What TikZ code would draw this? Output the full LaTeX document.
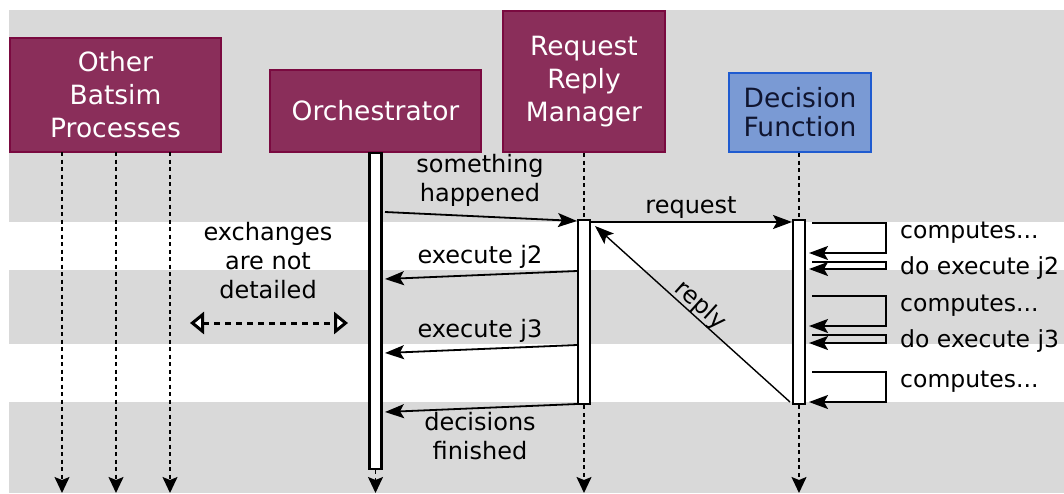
\documentclass[tikz,border=0pt]{standalone}
\usepackage{fontspec}
\setmainfont{DejaVu Sans}
\usetikzlibrary{arrows.meta}
\definecolor{bandgray}{HTML}{D9D9D9}
\definecolor{procfill}{HTML}{8A2E5A}
\definecolor{procdraw}{HTML}{7A0A40}
\definecolor{dffill}{HTML}{7A9AD4}
\definecolor{dfdraw}{HTML}{1F5BD0}
\definecolor{dftext}{HTML}{101530}
\begin{document}
\begin{tikzpicture}[x=1pt,y=-1pt,
 proc/.style={draw=procdraw, fill=procfill, line width=2pt, text=white, align=center, inner sep=0pt, font=\fontsize{26.5}{33}\selectfont},
 dfbox/.style={draw=dfdraw, fill=dffill, line width=2pt, text=dftext, align=center, inner sep=0pt, font=\fontsize{26.5}{29}\selectfont},
 act/.style={draw=black, fill=white, line width=2.8pt, minimum width=12pt, inner sep=0pt},
 life/.style={dash pattern=on 4pt off 3.5pt, line width=1.6pt},
 lifeend/.style={life, -{Stealth[length=16pt,width=15pt,inset=3pt]}},
 msg/.style={line width=1.8pt, -{Stealth[length=19pt,width=14pt,inset=4pt]}},
 lbl/.style={font=\fontsize{24}{29}\selectfont, align=center, inner sep=0pt},
 side/.style={font=\fontsize{23.5}{29}\selectfont, anchor=west, inner sep=0pt},
]
\useasboundingbox (0,0) rectangle (1064,493);
% background bands
\fill[bandgray] (9,10) rectangle (1064,222);
\fill[bandgray] (9,270) rectangle (1064,344);
\fill[bandgray] (9,402) rectangle (1064,493);

% participants
\node[proc, minimum width=211pt, minimum height=114pt] (other) at (115.5,95) {Other\\Batsim\\Processes};
\node[proc, minimum width=211pt, minimum height=82pt] (orch) at (375.5,111) {Orchestrator};
\node[proc, minimum width=162pt, minimum height=141pt] (rrm) at (584,81.5) {Request\\Reply\\Manager};
\node[dfbox, minimum width=142pt, minimum height=79pt] (df) at (800,112.5) {Decision\\Function};

% lifeline ends
\coordinate (o1) at (62,152); \coordinate (o1e) at (62,493);
\coordinate (o2) at (116,152); \coordinate (o2e) at (116,493);
\coordinate (o3) at (170,152); \coordinate (o3e) at (170,493);
\coordinate (orche) at (375.5,493);
\coordinate (rrme) at (584,493);
\coordinate (dfe) at (799,493);

\draw[lifeend] (o1) -- (o1e);
\draw[lifeend] (o2) -- (o2e);
\draw[lifeend] (o3) -- (o3e);

% activations
\node[act, minimum height=316pt] (oact) at (375.5,311) {};
\node[act, minimum height=184pt] (ract) at (584,312) {};
\node[act, minimum height=184pt] (dact) at (799,312) {};

\draw[life] (rrm.south -| ract.north) -- (ract.north);
\draw[life] (df.south -| dact.north) -- (dact.north);
\draw[lifeend] (oact.south) -- (orche);
\draw[lifeend] (ract.south) -- (rrme);
\draw[lifeend] (dact.south) -- (dfe);

% messages
\coordinate (sh1) at (385,212); \coordinate (sh2) at (577,221);
\draw[msg] (sh1) -- (sh2);
\node[lbl] (shl) at (480,180.5) {something\\happened};

\coordinate (rq1) at (590,222); \coordinate (rq2) at (792,222);
\draw[msg] (rq1) -- (rq2);
\node[lbl] (rql) at (691,208) {request};

\coordinate (rp1) at (790,402); \coordinate (rp2) at (595,226);
\draw[msg, line width=1.4pt] (rp1) -- (rp2)
  node[pos=0.5, rotate=-42, anchor=south, lbl, yshift=-1pt] (rpl) {reply};

\coordinate (e21) at (577,271); \coordinate (e22) at (385,279);
\draw[msg] (e21) -- (e22);
\node[lbl] (e2l) at (480,257) {execute j2};

\coordinate (e31) at (577,345); \coordinate (e32) at (385,353);
\draw[msg] (e31) -- (e32);
\node[lbl] (e3l) at (480,331) {execute j3};

\coordinate (df1) at (577,404); \coordinate (df2) at (385,412);
\draw[msg] (df1) -- (df2);
\node[lbl] (dfl) at (480,436.5) {decisions\\finished};

% self loops on decision function
\coordinate (l1) at (812,223);
\draw[msg] (l1) -- (886,223) -- (886,253) -- (809,253);
\node[side] (l1t) at (900,233) {computes...};
\coordinate (l2) at (812,262);
\draw[msg] (l2) -- (886,262) -- (886,269) -- (809,269);
\node[side] (l2t) at (900,268) {do execute j2};
\coordinate (l3) at (812,296);
\draw[msg] (l3) -- (886,296) -- (886,326) -- (809,326);
\node[side] (l3t) at (900,306) {computes...};
\coordinate (l4) at (812,335);
\draw[msg] (l4) -- (886,335) -- (886,343) -- (809,343);
\node[side] (l4t) at (900,341) {do execute j3};
\coordinate (l5) at (812,372);
\draw[msg] (l5) -- (886,372) -- (886,402) -- (809,402);
\node[side] (l5t) at (900,382) {computes...};

% exchanges not detailed
\node[lbl] (exl) at (268,261) {exchanges\\are not\\detailed};
\coordinate (x1) at (190,323); \coordinate (x2) at (348,323);
\draw[line width=3pt, dash pattern=on 6pt off 5pt,
  {Triangle[fill=white, length=14pt, width=22pt]}-{Triangle[fill=white, length=14pt, width=22pt]}] (x1) -- (x2);
\end{tikzpicture}
\end{document}
